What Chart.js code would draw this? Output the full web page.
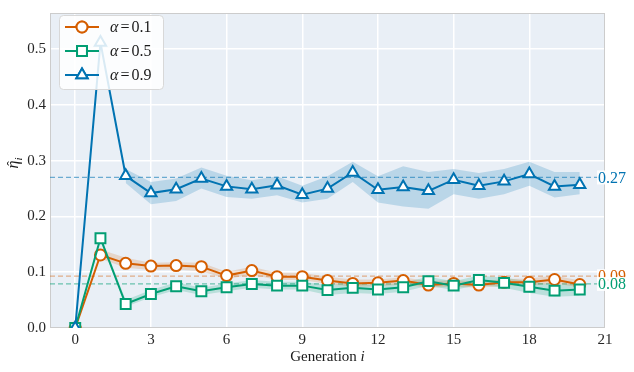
<!DOCTYPE html>
<html><head><meta charset="utf-8">
<script src="https://cdn.jsdelivr.net/npm/chart.js@4"></script>
<style>html,body{margin:0;padding:0;background:#fff}#c{display:block}</style>
</head><body>
<canvas id="c" width="634" height="372"></canvas>
<script>
const generations = [0,1,2,3,4,5,6,7,8,9,10,11,12,13,14,15,16,17,18,19,20];
const xTicks = [0,3,6,9,12,15,18,21];
const yTicks = [0,0.1,0.2,0.3,0.4,0.5];

const eta01 = [0,0.131,0.116,0.111,0.112,0.110,0.094,0.103,0.092,0.092,0.085,0.080,0.081,0.085,0.077,0.080,0.077,0.082,0.082,0.087,0.078];
const eta05 = [0,0.161,0.043,0.061,0.075,0.066,0.073,0.079,0.076,0.076,0.068,0.072,0.069,0.073,0.084,0.076,0.086,0.081,0.074,0.067,0.069];
const eta09 = [0,0.512,0.273,0.242,0.249,0.268,0.254,0.249,0.256,0.239,0.250,0.279,0.248,0.253,0.246,0.266,0.255,0.263,0.276,0.254,0.257];

const lo01 = [null,0.124,0.108,0.104,0.105,0.102,0.088,0.096,0.086,0.086,0.079,0.074,0.075,0.078,0.072,0.074,0.072,0.076,0.076,0.080,0.073];
const hi01 = [null,0.141,0.126,0.117,0.118,0.117,0.101,0.110,0.099,0.099,0.092,0.087,0.087,0.091,0.084,0.086,0.083,0.088,0.089,0.094,0.085];
const lo05 = [null,0.156,0.038,0.055,0.068,0.059,0.066,0.072,0.069,0.069,0.059,0.063,0.061,0.065,0.076,0.068,0.077,0.072,0.063,0.056,0.058];
const hi05 = [null,0.166,0.050,0.068,0.082,0.072,0.080,0.086,0.083,0.083,0.077,0.080,0.077,0.081,0.092,0.084,0.094,0.090,0.084,0.077,0.080];
const lo09 = [null,null,0.260,0.222,0.228,0.250,0.235,0.232,0.238,0.225,0.232,0.262,0.225,0.218,0.214,0.240,0.232,0.240,0.255,0.234,0.240];
const hi09 = [null,null,0.285,0.262,0.268,0.288,0.273,0.265,0.272,0.255,0.272,0.298,0.272,0.290,0.280,0.285,0.278,0.285,0.298,0.280,0.280];

const seriesLabels = ['0.1','0.5','0.9'];
const refValues = [0.093,0.079,0.27];
const refLabels = ['0.09','0.08','0.27'];

const colors = ['#D55E00','#029E73','#0173B2'];
const bandColors = ['rgba(213,94,0,0.18)','rgba(2,158,115,0.2)','rgba(1,115,178,0.2)'];
const refColors = ['rgba(213,94,0,0.45)','rgba(2,158,115,0.55)','rgba(1,115,178,0.55)'];
const markers = ['circle','rect','triangle'];
const radii = [5.5,7,6.5];
const SERIF = '"Liberation Serif","DejaVu Serif",serif';

const pts = arr => generations.map((g,i)=>({x:g,y:arr[i]}));
const means = [eta01,eta05,eta09], los=[lo01,lo05,lo09], his=[hi01,hi05,hi09];

const datasets = [];
for (let k=0;k<3;k++){
  datasets.push({data:pts(los[k]),borderWidth:0,pointRadius:0,fill:false,order:10,borderColor:'transparent'});
  datasets.push({data:pts(his[k]),borderWidth:0,pointRadius:0,fill:'-1',backgroundColor:bandColors[k],order:10,borderColor:'transparent'});
}
for (let k=0;k<3;k++){
  datasets.push({data:pts(means[k]),borderColor:colors[k],borderWidth:2,pointStyle:markers[k],pointRadius:radii[k],
    pointBorderWidth:2,pointBackgroundColor:'#fff',pointBorderColor:colors[k],fill:false,order:3-k});
}

const decor = {
  id:'decor',
  beforeDraw(chart){
    const {ctx,chartArea:a}=chart;
    ctx.save();ctx.fillStyle='#E9EFF6';ctx.fillRect(a.left,a.top,a.right-a.left,a.bottom-a.top);ctx.restore();
  },
  beforeDatasetsDraw(chart){
    const {ctx,chartArea:a,scales}=chart;
    ctx.save();
    ctx.strokeStyle='#cccccc';ctx.lineWidth=1;
    ctx.strokeRect(a.left+0.5,a.top+0.5,a.right-a.left-1,a.bottom-a.top-1);
    ctx.setLineDash([5,3]);ctx.lineWidth=1.3;
    refValues.forEach((v,k)=>{
      const y=scales.y.getPixelForValue(v);
      ctx.strokeStyle=refColors[k];ctx.beginPath();ctx.moveTo(a.left,y);ctx.lineTo(a.right-6,y);ctx.stroke();
    });
    ctx.restore();
  },
  afterDraw(chart){
    const {ctx,chartArea:a,scales}=chart;
    ctx.save();
    // right labels
    ctx.font='16px '+SERIF;ctx.textBaseline='middle';ctx.textAlign='left';
    refValues.forEach((v,k)=>{
      const y=scales.y.getPixelForValue(v);
      const w=ctx.measureText(refLabels[k]).width;
      const x=a.right-7;
      ctx.fillStyle='rgba(255,255,255,0.9)';ctx.fillRect(x-1,y-7,w+3,14);
      ctx.fillStyle=colors[k];ctx.fillText(refLabels[k],x,y+1);
    });
    // legend
    const lx=59,ly=15,lw=104,lh=74;
    ctx.fillStyle='rgba(255,255,255,0.85)';ctx.strokeStyle='#d8d8d8';ctx.lineWidth=1;
    ctx.beginPath();ctx.roundRect(lx+0.5,ly+0.5,lw,lh,4);ctx.fill();ctx.stroke();
    for(let k=0;k<3;k++){
      const y=ly+12+k*24;
      ctx.strokeStyle=colors[k];ctx.lineWidth=2;
      ctx.beginPath();ctx.moveTo(65,y);ctx.lineTo(99,y);ctx.stroke();
      Chart.helpers.drawPoint(ctx,{pointStyle:markers[k],radius:radii[k],borderWidth:2},82,y);
      ctx.fillStyle='#fff';ctx.fill();ctx.stroke();
      ctx.fillStyle='#1a1a1a';ctx.textBaseline='middle';
      let x=110;
      ctx.font='italic 16px '+SERIF;ctx.fillText('α',x,y+1);x+=ctx.measureText('α').width+2;
      ctx.font='16px '+SERIF;ctx.fillText('=',x,y+1);x+=ctx.measureText('=').width+2;
      ctx.fillText(seriesLabels[k],x,y+1);
    }
    // x title
    ctx.fillStyle='#1a1a1a';ctx.textBaseline='middle';
    const t1='Generation ';ctx.font='15px '+SERIF;const w1=ctx.measureText(t1).width;
    ctx.font='italic 15px '+SERIF;const w2=ctx.measureText('i').width;
    const cx=(a.left+a.right)/2;let x0=cx-(w1+w2)/2;
    ctx.font='15px '+SERIF;ctx.fillText(t1,x0,357);
    ctx.font='italic 15px '+SERIF;ctx.fillText('i',x0+w1,357);
    // y title (eta hat, subscript i)
    ctx.translate(18,163);ctx.rotate(-Math.PI/2);
    ctx.textBaseline='alphabetic';ctx.textAlign='left';
    ctx.font='italic 16px '+SERIF;const we=ctx.measureText('\u03B7').width;
    ctx.font='italic 11px '+SERIF;const wi=ctx.measureText('i').width;
    const sx=-(we+wi)/2;
    ctx.font='italic 16px '+SERIF;ctx.fillText('\u03B7',sx,0);
    ctx.font='italic 11px '+SERIF;ctx.fillText('i',sx+we,4);
    ctx.font='14px '+SERIF;ctx.textAlign='center';ctx.fillText('\u02C6',sx+we/2+1,-1);
    ctx.restore();
  }
};

new Chart(document.getElementById('c'),{
  type:'line',
  data:{datasets},
  options:{
    responsive:false,animation:false,devicePixelRatio:1,
    layout:{padding:{top:6,right:29,left:0,bottom:0}},
    plugins:{legend:{display:false},tooltip:{enabled:false}},
    elements:{line:{tension:0}},
    scales:{
      x:{type:'linear',min:-1,max:21,
        afterBuildTicks:s=>{s.ticks=xTicks.map(v=>({value:v}));},
        afterFit:s=>{s.height=44;},
        ticks:{font:{family:SERIF,size:15},color:'#262626',padding:3,callback:v=>String(v)},
        grid:{color:'#ffffff',lineWidth:1.5,drawTicks:false},border:{display:false}},
      y:{type:'linear',min:0,max:0.565,
        afterBuildTicks:s=>{s.ticks=yTicks.map(v=>({value:v}));},
        afterFit:s=>{s.width=50;},
        ticks:{font:{family:SERIF,size:15},color:'#262626',padding:4,callback:v=>v.toFixed(1)},
        grid:{color:'#ffffff',lineWidth:1.5,drawTicks:false},border:{display:false}}
    }
  },
  plugins:[decor]
});
</script>
</body></html>
